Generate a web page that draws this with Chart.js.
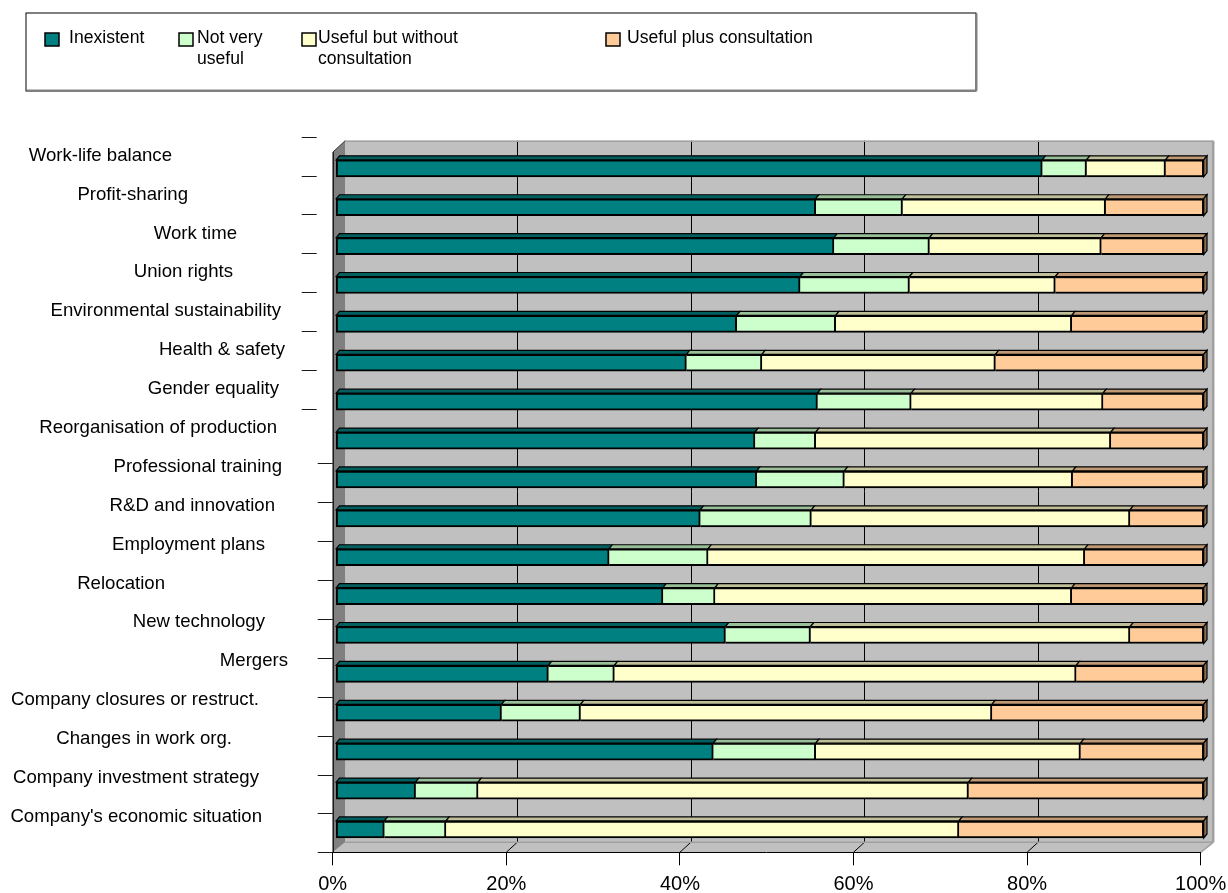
<!DOCTYPE html>
<html>
<head>
<meta charset="utf-8">
<script src="https://cdn.jsdelivr.net/npm/chart.js@4.4.0/dist/chart.umd.min.js"></script>
<style>
  html, body { margin: 0; padding: 0; background: #ffffff; }
  #wrap { position: relative; width: 1228px; height: 893px; }
</style>
</head>
<body>
<div id="wrap"><canvas id="c" width="1228" height="893"></canvas></div>
<script>
// ---- data ---------------------------------------------------------------
const categories = [
  'Work-life balance',
  'Profit-sharing',
  'Work time',
  'Union rights',
  'Environmental sustainability',
  'Health & safety',
  'Gender equality',
  'Reorganisation of production',
  'Professional training',
  'R&D and innovation',
  'Employment plans',
  'Relocation',
  'New technology',
  'Mergers',
  'Company closures or restruct.',
  'Changes in work org.',
  'Company investment strategy',
  "Company's economic situation"
];

const seriesNames = [
  'Inexistent',
  'Not very\nuseful',
  'Useful but without\nconsultation',
  'Useful plus consultation'
];

// shares of respondents, percent
const inexistent      = [81.4, 55.3, 57.4, 53.5, 46.2, 40.4, 55.5, 48.3, 48.5, 42.0, 31.5, 37.7, 44.9, 24.5, 19.1, 43.5,  9.2,  5.6];
const notVeryUseful   = [ 5.1, 10.0, 11.0, 12.6, 11.4,  8.7, 10.8,  7.0, 10.1, 12.8, 11.4,  6.0,  9.8,  7.6,  9.1, 11.8,  7.2,  7.1];
const usefulNoConsult = [ 9.1, 23.4, 19.8, 16.8, 27.2, 26.9, 22.1, 34.0, 26.3, 36.7, 43.4, 41.1, 36.8, 53.2, 47.4, 30.5, 56.5, 59.1];
const usefulConsult   = [ 4.4, 11.3, 11.8, 17.1, 15.2, 24.0, 11.6, 10.7, 15.1,  8.5, 13.7, 15.2,  8.5, 14.7, 24.4, 14.2, 27.1, 28.2];

const xTicks = [0, 20, 40, 60, 80, 100];

// ---- styling ------------------------------------------------------------
const FONT = '"Liberation Sans", Arial, Helvetica, sans-serif';
const fills = ['#008080', '#CCFFCC', '#FFFFCC', '#FFCC99'];
const topFills = ['#006060', '#99BF99', '#BFBF99', '#BF9973'];
const sideFill = '#8C7054';

// back wall, side wall and floor of the 3-D frame
const frame3d = {
  id: 'frame3d',
  beforeDraw(chart, args, o) {
    const { ctx, chartArea: a, scales: { x } } = chart;
    const L = a.left, R = a.right, T = a.top, B = a.bottom;
    const wallT = T + o.topDY, wallB = B + o.bottomDY;
    const wallL = L + o.depthX, wallR = R + o.depthX;
    ctx.save();

    // back wall
    ctx.fillStyle = '#C0C0C0';
    ctx.fillRect(wallL, wallT, wallR - wallL, wallB - wallT);
    // wall grid lines
    ctx.strokeStyle = '#000';
    ctx.lineWidth = 1;
    xTicks.slice(1, -1).forEach(v => {
      const gx = Math.round(x.getPixelForValue(v) + o.gridDX) + 0.5;
      ctx.beginPath(); ctx.moveTo(gx, wallT); ctx.lineTo(gx, wallB); ctx.stroke();
    });

    // floor
    ctx.fillStyle = '#C0C0C0';
    ctx.beginPath();
    ctx.moveTo(L, B); ctx.lineTo(R, B); ctx.lineTo(wallR, wallB); ctx.lineTo(wallL, wallB);
    ctx.closePath(); ctx.fill();
    ctx.strokeStyle = '#000';
    xTicks.slice(1, -1).forEach(v => {
      const fx = x.getPixelForValue(v);
      ctx.beginPath(); ctx.moveTo(fx, B); ctx.lineTo(fx + o.gridDX, wallB); ctx.stroke();
    });
    ctx.strokeStyle = '#A0A0A0';
    ctx.lineWidth = 1.5;
    ctx.beginPath(); ctx.moveTo(R, B); ctx.lineTo(wallR, wallB); ctx.stroke();
    ctx.beginPath(); ctx.moveTo(wallL, wallB); ctx.lineTo(wallR, wallB); ctx.stroke();

    // wall frame edges
    ctx.strokeStyle = '#A0A0A0';
    ctx.lineWidth = 1.5;
    ctx.beginPath(); ctx.moveTo(wallL, wallT + 0.5); ctx.lineTo(wallR, wallT + 0.5); ctx.stroke();
    ctx.lineWidth = 2.5;
    ctx.beginPath(); ctx.moveTo(wallR, wallT); ctx.lineTo(wallR, wallB); ctx.stroke();

    // left side wall
    ctx.fillStyle = '#808080';
    ctx.beginPath();
    ctx.moveTo(L, T); ctx.lineTo(wallL, wallT); ctx.lineTo(wallL, wallB); ctx.lineTo(L, B);
    ctx.closePath(); ctx.fill();
    ctx.strokeStyle = '#303030';
    ctx.lineWidth = 1;
    ctx.beginPath(); ctx.moveTo(L, T); ctx.lineTo(wallL, wallT); ctx.stroke();
    ctx.strokeStyle = '#000';
    ctx.lineWidth = 1.2;
    ctx.beginPath(); ctx.moveTo(L + 0.5, T); ctx.lineTo(L + 0.5, B); ctx.stroke();

    // category boundary ticks
    const n = categories.length;
    const band = (B - T) / n;
    ctx.strokeStyle = '#1a1a1a';
    ctx.lineWidth = 1;
    for (let k = 0; k <= n; k++) {
      const ty = T + k * band;
      ctx.beginPath();
      if (k < o.shiftedTicks) {
        const yy = Math.round(ty + o.tickShiftY) + 0.5;
        ctx.moveTo(L + o.tickShiftX - 15, yy); ctx.lineTo(L + o.tickShiftX, yy);
      } else {
        const yy = Math.round(ty) + 0.5;
        ctx.moveTo(L - 15, yy); ctx.lineTo(L, yy);
      }
      ctx.stroke();
    }
    ctx.restore();
  },

  // bars sit a little behind the front plane
  beforeDatasetsDraw(chart, args, o) {
    chart.ctx.save();
    chart.ctx.translate(o.barDX, o.barDY);
  },

  afterDatasetsDraw(chart, args, o) {
    const ctx = chart.ctx;
    const dx = o.faceDX, dy = o.faceDY;
    const last = chart.data.datasets.length - 1;
    ctx.lineWidth = 1.2;
    ctx.strokeStyle = '#000';
    chart.data.datasets.forEach((ds, di) => {
      const meta = chart.getDatasetMeta(di);
      meta.data.forEach(el => {
        const { x: x1, base: x0, y: cy, height: h } = el.getProps(['x', 'base', 'y', 'height'], true);
        const top = cy - h / 2, bot = cy + h / 2;
        ctx.fillStyle = topFills[di];
        ctx.beginPath();
        ctx.moveTo(x0, top); ctx.lineTo(x1, top); ctx.lineTo(x1 + dx, top - dy); ctx.lineTo(x0 + dx, top - dy);
        ctx.closePath(); ctx.fill(); ctx.stroke();
        if (di === last) {
          ctx.fillStyle = sideFill;
          ctx.beginPath();
          ctx.moveTo(x1, top); ctx.lineTo(x1 + dx, top - dy); ctx.lineTo(x1 + dx, bot - dy); ctx.lineTo(x1, bot);
          ctx.closePath(); ctx.fill(); ctx.stroke();
        }
      });
    });
    ctx.restore();
  },

  afterDraw(chart, args, o) {
    const { ctx, scales: { y } } = chart;
    ctx.save();

    // category names
    ctx.fillStyle = '#000';
    ctx.font = `${o.labelSize}px ${FONT}`;
    ctx.textAlign = 'right';
    ctx.textBaseline = 'alphabetic';
    chart.data.labels.forEach((lab, i) => {
      ctx.fillText(lab, o.labelRight[i], y.getPixelForValue(i) + o.labelDY);
    });

    // legend
    const lg = o.legend;
    ctx.fillStyle = '#fff';
    ctx.fillRect(lg.x, lg.y, lg.w, lg.h);
    ctx.strokeStyle = '#000';
    ctx.lineWidth = 1;
    ctx.strokeRect(lg.x + 0.5, lg.y + 0.5, lg.w, lg.h);
    ctx.strokeStyle = '#808080';
    ctx.lineWidth = 2;
    ctx.beginPath(); ctx.moveTo(lg.x + 1, lg.y + lg.h); ctx.lineTo(lg.x + lg.w + 1, lg.y + lg.h); ctx.stroke();
    ctx.beginPath(); ctx.moveTo(lg.x + lg.w + 1, lg.y + 1); ctx.lineTo(lg.x + lg.w + 1, lg.y + lg.h); ctx.stroke();

    ctx.font = `${lg.fontSize}px ${FONT}`;
    ctx.textAlign = 'left';
    chart.data.datasets.forEach((ds, i) => {
      const mx = lg.markerX[i];
      ctx.fillStyle = ds.backgroundColor;
      ctx.fillRect(mx, lg.markerY, 14, 13);
      ctx.strokeStyle = '#000';
      ctx.lineWidth = 1.5;
      ctx.strokeRect(mx, lg.markerY, 14, 13);
      ctx.fillStyle = '#000';
      ds.label.split('\n').forEach((line, li) => {
        ctx.fillText(line, lg.textX[i], lg.baseline + li * lg.lineGap);
      });
    });
    ctx.restore();
  }
};

const seriesValues = [inexistent, notVeryUseful, usefulNoConsult, usefulConsult];

new Chart(document.getElementById('c'), {
  type: 'bar',
  data: {
    labels: categories,
    datasets: seriesValues.map((vals, i) => ({
      label: seriesNames[i],
      data: vals,
      backgroundColor: fills[i],
      borderColor: '#000',
      borderWidth: 2,
      borderSkipped: i === 0 ? false : 'left',
      barThickness: 17,
      clip: false
    }))
  },
  plugins: [frame3d],
  options: {
    indexAxis: 'y',
    responsive: false,
    animation: false,
    events: [],
    layout: { padding: { left: 332.7, right: 27.3, top: 152.3, bottom: 0.7 } },
    scales: {
      x: {
        stacked: true,
        min: 0,
        max: 100,
        afterBuildTicks(s) { s.ticks = xTicks.map(v => ({ value: v })); },
        afterFit(s) { s.height = 40; s.paddingLeft = 0; s.paddingRight = 0; },
        grid: { display: true, drawOnChartArea: false, drawTicks: true, tickLength: 13, color: '#000', lineWidth: 1 },
        border: { display: true, color: '#000', width: 1 },
        ticks: {
          callback: v => v + '%',
          font: { family: FONT, size: 20 },
          color: '#000',
          padding: 7,
          maxRotation: 0,
          autoSkip: false
        }
      },
      y: { stacked: true, display: false }
    },
    plugins: {
      legend: { display: false },
      tooltip: { enabled: false },
      frame3d: {
        depthX: 12.5,
        topDY: -11.6,
        bottomDY: -10,
        gridDX: 10.9,
        shiftedTicks: 8,
        tickShiftX: -16,
        tickShiftY: -15.6,
        barDX: 3,
        barDY: -3.4,
        faceDX: 3.3,
        faceDY: 4,
        labelSize: 18.6,
        labelDY: -11,
        labelRight: [172, 188, 237, 233, 281, 285, 279, 277, 282, 275, 265, 165, 265, 288, 259, 232, 259, 262],
        legend: {
          x: 25.5, y: 12.5, w: 950, h: 78,
          fontSize: 17.6,
          markerX: [45, 179, 302, 606],
          markerY: 33,
          textX: [69, 197, 318, 627],
          baseline: 43,
          lineGap: 21
        }
      }
    }
  }
});
</script>
</body>
</html>
